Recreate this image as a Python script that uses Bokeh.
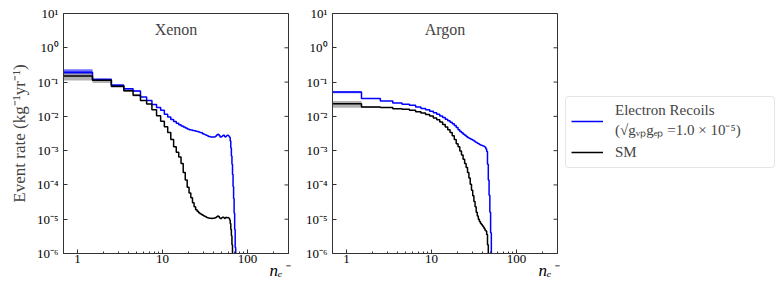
import numpy as np
from bokeh.plotting import figure
from bokeh.models import (FixedTicker, CustomJSTickFormatter, Label, Title,
                          Legend, LegendItem, Range1d)
from bokeh.layouts import row
from bokeh.embed import file_html
from bokeh.resources import INLINE

# ---------------- data ----------------
xe_er = [0.195, 0.118, 0.081, 0.064, 0.055, 0.037, 0.029, 0.022, 0.018, 0.0150,
         0.0115, 0.0095, 0.0081, 0.0071, 0.0063, 0.0057, 0.0052, 0.0049, 0.0046, 0.0043,
         0.0041, 0.0040, 0.0039, 0.0038, 0.0037, 0.0036, 0.0035, 0.0034, 0.0033, 0.0031,
         0.0030, 0.0029, 0.0028, 0.0027, 0.0026, 0.0026, 0.0025, 0.0025, 0.0025, 0.0025,
         0.0025, 0.0026, 0.0027, 0.0029, 0.0030, 0.0029, 0.0027, 0.0025, 0.0025, 0.0026,
         0.0027, 0.0028, 0.0028, 0.0026, 0.0025, 0.0026, 0.0027, 0.0028, 0.0028, 0.0027,
         0.0026, 0.0024, 0.0019, 0.0012, 7e-4, 4e-4, 2e-4, 9e-5, 4e-5, 1.5e-5,
         5e-6, 1.5e-6, 4e-7]
xe_sm = [0.150, 0.113, 0.075, 0.056, 0.041, 0.029, 0.023, 0.0155, 0.0105, 0.0072,
         0.0050, 0.0034, 0.0021, 0.0013, 9e-4, 6.5e-4, 4.2e-4, 2.3e-4, 1.4e-4, 8.5e-5,
         5.8e-5, 4.2e-5, 3.0e-5, 2.3e-5, 1.9e-5, 1.7e-5, 1.55e-5, 1.45e-5, 1.38e-5, 1.3e-5,
         1.25e-5, 1.2e-5, 1.15e-5, 1.1e-5, 1.08e-5, 1.07e-5, 1.06e-5, 1.05e-5, 1.06e-5, 1.07e-5,
         1.08e-5, 1.1e-5, 1.15e-5, 1.2e-5, 1.25e-5, 1.2e-5, 1.1e-5, 1.05e-5, 1.05e-5, 1.1e-5,
         1.15e-5, 1.15e-5, 1.1e-5, 1.05e-5, 1.1e-5, 1.15e-5, 1.1e-5, 1.1e-5, 1.12e-5, 1.1e-5,
         1.05e-5, 9.5e-6, 7.5e-6, 5e-6, 3.3e-6, 1.8e-6, 9e-7, 4e-7]
ar_er = [0.051, 0.033, 0.028, 0.0245, 0.0225, 0.0210, 0.0187, 0.0170, 0.0155, 0.0140,
         0.0127, 0.0115, 0.0103, 0.0092, 0.0082, 0.0074, 0.0067, 0.0061, 0.0054, 0.0047,
         0.0041, 0.0036, 0.0033, 0.0030, 0.0028, 0.0026, 0.0024, 0.0023, 0.0022, 0.0021,
         0.0020, 0.0019, 0.0018, 0.00172, 0.00165, 0.00158, 0.00152, 0.00147, 0.00143, 0.00140,
         0.00137, 0.00133, 0.00125, 0.00112, 0.00095, 4e-4, 1.4e-4, 5e-5, 1.6e-5, 4e-6,
         8e-7]
ar_sm = [0.0235, 0.0188, 0.0180, 0.0168, 0.0160, 0.0150, 0.0136, 0.0125, 0.0114, 0.0102,
         0.0090, 0.0079, 0.0068, 0.0058, 0.0049, 0.0041, 0.0034, 0.0027, 0.0021, 0.0016,
         0.0013, 0.00098, 0.00075, 0.00056, 0.00042, 0.00032, 0.00023, 0.00016, 0.000105, 7e-5,
         4.8e-5, 3.3e-5, 2.3e-5, 1.6e-5, 1.25e-5, 1.0e-5, 8.6e-6, 7.6e-6, 7.0e-6, 6.4e-6,
         5.9e-6, 5.4e-6, 4.8e-6, 4.5e-6, 3.6e-6, 1.8e-6, 5e-7]

# uncertainty bands on the first bins
xe_band_n = [1, 2, 3, 4, 5]
xe_er_lo = [0.170, 0.108, 0.076, 0.061, 0.053]
xe_er_hi = [0.235, 0.128, 0.086, 0.067, 0.057]
xe_sm_lo = [0.112, 0.094, 0.068, 0.051, 0.038]
xe_sm_hi = [0.180, 0.124, 0.080, 0.060, 0.044]
ar_band_n = [1, 2]
ar_er_lo = [0.047, 0.032]
ar_er_hi = [0.054, 0.034]
ar_sm_lo = [0.0178, 0.0176]
ar_sm_hi = [0.028, 0.0198]

x_major = [1, 10, 100]
x_minor = [2, 3, 4, 5, 6, 7, 8, 9, 20, 30, 40, 50, 60, 70, 80, 90, 200, 300]
y_major = [1e-6, 1e-5, 1e-4, 1e-3, 1e-2, 1e-1, 1e0, 1e1]

X_MIN, X_MAX = 0.684, 303.0
Y_MIN, Y_MAX = 1e-6, 10.0

FONT = "Liberation Serif"
SPINE = "#333333"
BLUE = "#0000ff"

SUP_JS = """
const s = {'-':'\u207b','0':'\u2070','1':'\u00b9','2':'\u00b2','3':'\u00b3','4':'\u2074',
           '5':'\u2075','6':'\u2076','7':'\u2077','8':'\u2078','9':'\u2079'};
const e = Math.round(Math.log10(tick));
return '10' + String(e).split('').map(c => s[c]).join('');
"""


def step_xy(vals):
    xs, ys = [], []
    for i, v in enumerate(vals):
        n = i + 1
        xs += [n - 0.5, n + 0.5]
        ys += [v, v]
    return xs, ys


def make_panel(title, er, sm, bn, er_lo, er_hi, sm_lo, sm_hi, left_border, ylabel):
    p = figure(frame_width=225, frame_height=240, x_axis_type="log", y_axis_type="log",
               x_range=Range1d(X_MIN, X_MAX), y_range=Range1d(Y_MIN, Y_MAX),
               output_backend="svg", toolbar_location=None, title=None,
               min_border_left=left_border, min_border_right=8,
               min_border_top=13, min_border_bottom=25)
    p.grid.visible = False
    p.outline_line_color = SPINE
    p.outline_line_width = 1

    bn = np.array(bn)
    p.quad(left=bn - 0.5, right=bn + 0.5, bottom=er_lo, top=er_hi,
           fill_color=BLUE, fill_alpha=0.55, line_color=None)
    p.quad(left=bn - 0.5, right=bn + 0.5, bottom=sm_lo, top=sm_hi,
           fill_color="#000000", fill_alpha=0.3, line_color=None)

    xs, ys = step_xy(er)
    p.line(xs, ys, line_color=BLUE, line_width=1.5)
    xs, ys = step_xy(sm)
    p.line(xs, ys, line_color="black", line_width=1.5)

    # inward ticks on the right spine (half of each dash is clipped by the frame)
    p.scatter(x=[X_MAX] * len(y_major), y=y_major, marker="dash", size=8,
              line_color=SPINE, line_width=1)

    xa = p.xaxis[0]
    xa.ticker = FixedTicker(ticks=x_major, minor_ticks=x_minor)
    xa.formatter = CustomJSTickFormatter(code="return String(Math.round(tick));")
    ya = p.yaxis[0]
    ya.ticker = FixedTicker(ticks=y_major)
    ya.formatter = CustomJSTickFormatter(code=SUP_JS)
    for ax in (xa, ya):
        ax.axis_line_color = SPINE
        ax.major_tick_line_color = SPINE
        ax.minor_tick_line_color = SPINE
        ax.major_tick_in = 4
        ax.major_tick_out = 0
        ax.minor_tick_in = 2
        ax.minor_tick_out = 0
        ax.major_label_text_font = FONT
        ax.major_label_text_font_size = "13px"
        ax.major_label_text_color = "black"
        ax.major_label_standoff = 5
    ya.minor_tick_line_color = None
    xa.major_label_standoff = 1
    if ylabel:
        ya.axis_label = ylabel
        ya.axis_label_text_font = FONT
        ya.axis_label_text_font_size = "17px"
        ya.axis_label_text_font_style = "normal"
        ya.axis_label_standoff = 5

    p.add_layout(Label(x=float(np.sqrt(X_MIN * X_MAX)), y=Y_MAX, y_offset=-7,
                       text=title, text_font=FONT, text_font_size="16px",
                       text_align="center", text_baseline="top"))
    xt = Title(text="n\u2091\u207b", align="right", text_font=FONT,
               text_font_size="17px", text_font_style="italic",
               text_color="black")
    xt.standoff = -14
    p.add_layout(xt, "below")
    return p


p1 = make_panel("Xenon", xe_er, xe_sm, xe_band_n, xe_er_lo, xe_er_hi, xe_sm_lo, xe_sm_hi,
                63, "Event rate (kg\u207b\u00b9yr\u207b\u00b9)")
p2 = make_panel("Argon", ar_er, ar_sm, ar_band_n, ar_er_lo, ar_er_hi, ar_sm_lo, ar_sm_hi,
                36, None)

# legend panel
p3 = figure(width=216, height=266, x_range=Range1d(0, 1), y_range=Range1d(0, 1),
            output_backend="svg", toolbar_location=None, title=None,
            x_axis_location=None, y_axis_location=None,
            min_border=0)
p3.grid.visible = False
p3.outline_line_color = None
r1 = p3.line([5, 6], [5, 6], line_color=BLUE, line_width=1.5)
r2 = p3.line([5, 6], [5, 6], line_color="black", line_width=1.5)
legend = Legend(items=[
    LegendItem(label="Electron Recoils\n(\u221ag\u1d65\u209ag\u2091\u209a =1.0 \u00d7 10\u207b\u2075)", renderers=[r1]),
    LegendItem(label="SM", renderers=[r2])],
    location=(0, 73), margin=0, padding=5, spacing=3,
    glyph_width=32, label_standoff=12, label_width=154,
    label_text_font=FONT, label_text_font_size="15px",
    label_text_line_height=1.1,
    border_line_color="#cccccc", border_line_width=1,
    background_fill_color="white", background_fill_alpha=0.8)
if "border_radius" in legend.properties():
    legend.border_radius = 4
p3.add_layout(legend, "center")

layout = row(p1, p2, p3, spacing=0)
open("out.html", "w").write(file_html(layout, INLINE))
